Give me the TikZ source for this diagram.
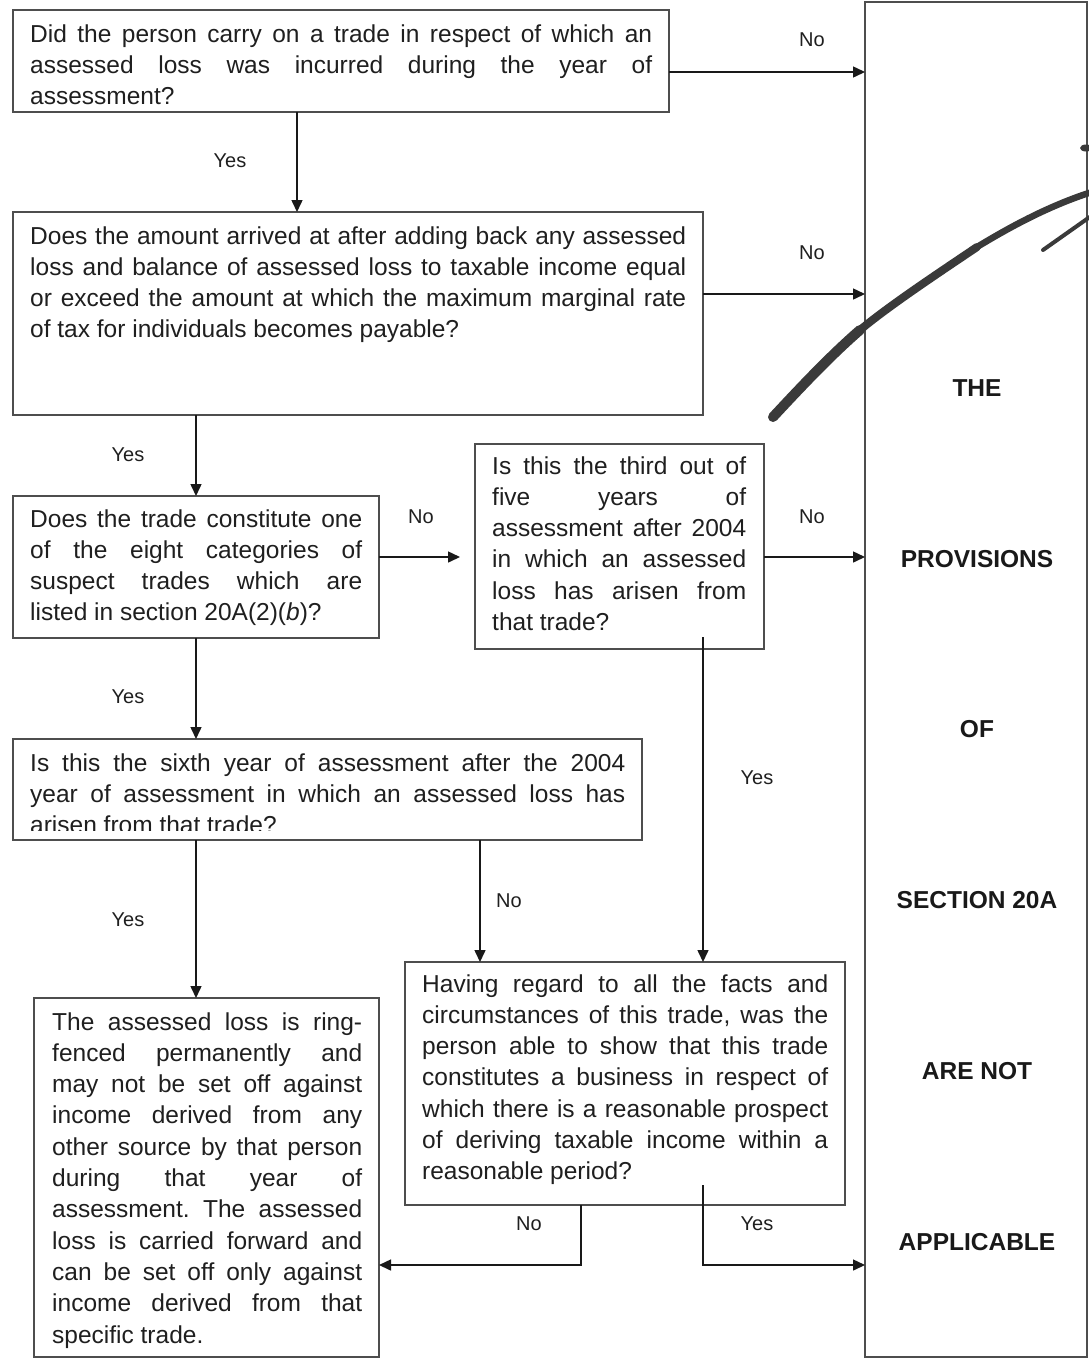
\documentclass[tikz,border=0pt]{standalone}
\usepackage{fontspec}
\setmainfont{Liberation Sans}
\usetikzlibrary{arrows.meta}
\definecolor{framegray}{RGB}{78,78,78}
\definecolor{inkgray}{RGB}{58,58,58}
% justified paragraph of fixed width, first baseline on the node baseline
\newcommand\flowtext[2]{\parbox[t]{#1}{\frenchspacing\tolerance=10000\hyphenpenalty=10000\relax #2}}

\begin{document}
\begin{tikzpicture}[x=1pt,y=-1pt,
  box/.style={draw=framegray, line width=2pt, rectangle, inner sep=0pt, outer sep=0pt, anchor=north west},
  body/.style={anchor=base west, inner sep=0pt, font=\fontsize{24.5}{31.3}\selectfont, text=black!88},
  answer/.style={font=\fontsize{20}{24}\selectfont, inner sep=0pt, text=black!88},
  heading/.style={font=\fontsize{24.5}{30}\selectfont\bfseries, inner sep=0pt, text=black!90},
  flow/.style={draw=black!90, line width=1.5pt, -{Triangle[length=12pt,width=11pt]}},
  scrawl/.style={draw=inkgray, line cap=round, line join=round}]

\useasboundingbox (0,0) rectangle (1089,1361);
\fill[white] (0,0) rectangle (1089,1361);

% question and outcome boxes
\node[box, minimum width=656pt, minimum height=102pt] (b1) at (13,10) {};
\node[box, minimum width=690pt, minimum height=203pt] (b2) at (13,212) {};
\node[box, minimum width=366pt, minimum height=142pt] (b3) at (13,496) {};
\node[box, minimum width=289pt, minimum height=205pt] (b4) at (475,444) {};
\node[box, minimum width=629pt, minimum height=101pt] (b5) at (13,739) {};
\node[box, minimum width=440pt, minimum height=243pt] (b6) at (405,962) {};
\node[box, minimum width=345pt, minimum height=359pt] (b7) at (34,998) {};
\node[box, minimum width=222pt, minimum height=1355pt] (big) at (865,2) {};

% box texts
\node[body] (t1) at (30,42) {\flowtext{622pt}{Did the person carry on a trade in respect of which an\linebreak assessed loss was incurred during the year of\linebreak assessment?}};
\node[body] (t2) at (30,244) {\flowtext{656pt}{Does the amount arrived at after adding back any assessed\linebreak loss and balance of assessed loss to taxable income equal\linebreak or exceed the amount at which the maximum marginal rate\linebreak of tax for individuals becomes payable?}};
\node[body] (t3) at (30,527) {\flowtext{332pt}{Does the trade constitute one\linebreak of the eight categories of\linebreak suspect trades which are\linebreak listed in section 20A(2)(\textit{b})?}};
\node[body] (t4) at (492,474) {\flowtext{254pt}{Is this the third out of\linebreak five years of\linebreak assessment after 2004\linebreak in which an assessed\linebreak loss has arisen from\linebreak that trade?}};
\begin{scope}
  \clip (13,739) rectangle (642,830);
  \node[body] (t5) at (30,771) {\flowtext{595pt}{Is this the sixth year of assessment after the 2004\linebreak year of assessment in which an assessed loss has\linebreak arisen from that trade?}};
\end{scope}
\node[body] (t6) at (422,992) {\flowtext{406pt}{Having regard to all the facts and\linebreak circumstances of this trade, was the\linebreak person able to show that this trade\linebreak constitutes a business in respect of\linebreak which there is a reasonable prospect\linebreak of deriving taxable income within a\linebreak reasonable period?}};
\node[body] (t7) at (52,1030) {\flowtext{310pt}{The assessed loss is ring-\linebreak fenced permanently and\linebreak may not be set off against\linebreak income derived from any\linebreak other source by that person\linebreak during that year of\linebreak assessment. The assessed\linebreak loss is carried forward and\linebreak can be set off only against\linebreak income derived from that\linebreak specific trade.}};

% conclusion column
\node[heading] (h1) at (977,388) {THE};
\node[heading] (h2) at (977,559) {PROVISIONS};
\node[heading] (h3) at (977,729) {OF};
\node[heading] (h4) at (977,900) {SECTION 20A};
\node[heading] (h5) at (977,1071) {ARE NOT};
\node[heading] (h6) at (977,1242) {APPLICABLE};

% routing rows and columns
\coordinate (row1) at (0,72);
\coordinate (row2) at (0,294);
\coordinate (row3) at (0,557);
\coordinate (row6) at (0,1265);
\coordinate (colA) at (196,0);
\coordinate (colB) at (297,0);
\coordinate (colC) at (480,0);
\coordinate (colD) at (581,0);
\coordinate (colE) at (703,0);
\coordinate (tap4) at (703,637);
\coordinate (tap6) at (703,1185);

% connectors
\draw[flow] (b1.east |- row1) -- (big.west |- row1);
\draw[flow] (b1.south -| colB) -- (b2.north -| colB);
\draw[flow] (b2.east |- row2) -- (big.west |- row2);
\draw[flow] (b2.south -| colA) -- (b3.north -| colA);
\draw[flow, shorten >=15pt] (b3.east |- row3) -- (b4.west |- row3);
\draw[flow] (b4.east |- row3) -- (big.west |- row3);
\draw[flow] (b3.south -| colA) -- (b5.north -| colA);
\draw[flow] (b5.south -| colA) -- (b7.north -| colA);
\draw[flow] (b5.south -| colC) -- (b6.north -| colC);
\draw[flow] (tap4) -- (b6.north -| colE);
\draw[flow] (b6.south -| colD) |- (b7.east |- row6);
\draw[flow] (tap6) |- (big.west |- row6);

% answers
\node[answer] (n1) at (812,40) {No};
\node[answer] (y1) at (230,161) {Yes};
\node[answer] (n2) at (812,253) {No};
\node[answer] (y2) at (128,455) {Yes};
\node[answer] (n3) at (421,517) {No};
\node[answer] (n4) at (812,517) {No};
\node[answer] (y3) at (128,697) {Yes};
\node[answer] (y4) at (757,778) {Yes};
\node[answer] (y5) at (128,920) {Yes};
\node[answer] (n5) at (509,901) {No};
\node[answer] (n6) at (529,1224) {No};
\node[answer] (y6) at (757,1224) {Yes};

% pen strokes across the conclusion column
\draw[scrawl, line width=10pt] (773,417) .. controls (800,388) and (830,356) .. (860,330);
\draw[scrawl, line width=8pt] (860,330) .. controls (890,305) and (940,272) .. (977,247);
\draw[scrawl, line width=6.5pt] (977,247) .. controls (1010,227) and (1050,205) .. (1095,191);
\draw[scrawl, line width=4pt] (1043,250) -- (1094,214);
\fill[inkgray] (1086,148) ellipse [x radius=6pt, y radius=3.5pt];
\end{tikzpicture}
\end{document}
